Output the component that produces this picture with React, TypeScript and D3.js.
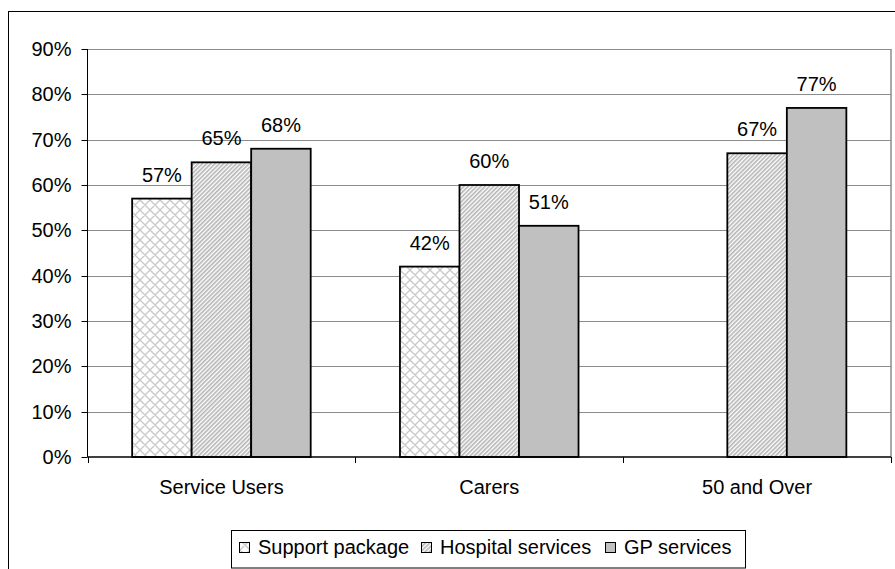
import { useEffect, useRef } from 'react';
import * as d3 from 'd3';

// values (fractions)
const categories = ['Service Users', 'Carers', '50 and Over'];
const seriesNames = ['Support package', 'Hospital services', 'GP services'];
const supportPackage: (number | null)[] = [0.57, 0.42, null];
const hospitalServices: (number | null)[] = [0.65, 0.6, 0.67];
const gpServices: (number | null)[] = [0.68, 0.51, 0.77];
const yTicks = [0, 0.1, 0.2, 0.3, 0.4, 0.5, 0.6, 0.7, 0.8, 0.9];

const W = 895;
const H = 569;
const FONT = '"Liberation Sans", Arial, sans-serif';

export default function App() {
  const svgRef = useRef<SVGSVGElement>(null);

  useEffect(() => {
    if (!svgRef.current) return;
    const svg = d3.select(svgRef.current);
    svg.selectAll('*').remove();

    const plot = { left: 87.5, right: 891, top: 49, bottom: 457 };
    const seriesValues = [supportPackage, hospitalServices, gpServices];
    const fills = ['url(#crossHatch)', 'url(#diagStripe)', '#c0c0c0'];

    // patterns
    const defs = svg.append('defs');
    const cross = defs.append('pattern')
      .attr('id', 'crossHatch')
      .attr('patternUnits', 'userSpaceOnUse')
      .attr('width', 10)
      .attr('height', 10);
    cross.append('rect').attr('width', 10).attr('height', 10).attr('fill', '#ffffff');
    cross.append('path')
      .attr('d', 'M0,0 L10,10 M10,0 L0,10 M-1,9 L1,11 M9,-1 L11,1 M-1,1 L1,-1 M9,11 L11,9')
      .attr('stroke', '#c8c8c8')
      .attr('stroke-width', 1.3);

    const stripe = defs.append('pattern')
      .attr('id', 'diagStripe')
      .attr('patternUnits', 'userSpaceOnUse')
      .attr('width', 3)
      .attr('height', 3)
      .attr('patternTransform', 'rotate(45)');
    stripe.append('rect').attr('width', 3).attr('height', 3).attr('fill', '#ffffff');
    stripe.append('rect').attr('width', 1.6).attr('height', 3).attr('fill', '#b4b4b4');

    // outer frame (runs off the right and bottom edges)
    svg.append('rect')
      .attr('x', 8.5).attr('y', 11.5)
      .attr('width', 1000).attr('height', 1000)
      .attr('fill', 'white')
      .attr('stroke', '#000').attr('stroke-width', 1);

    const x0 = d3.scaleBand<string>()
      .domain(categories)
      .range([plot.left, plot.right])
      .padding(0);

    const x1 = d3.scaleBand<string>()
      .domain(seriesNames)
      .range([0, x0.bandwidth()])
      .paddingInner(0)
      .paddingOuter(0.75);

    const y = d3.scaleLinear()
      .domain([0, 0.9])
      .range([plot.bottom, plot.top]);

    // gridlines
    svg.append('g')
      .selectAll('line')
      .data(yTicks.slice(1))
      .enter()
      .append('line')
      .attr('x1', plot.left)
      .attr('x2', plot.right)
      .attr('y1', d => Math.round(y(d)) + 0.5)
      .attr('y2', d => Math.round(y(d)) + 0.5)
      .attr('stroke', '#8c8c8c')
      .attr('stroke-width', 1);

    // plot-area right border
    svg.append('line')
      .attr('x1', plot.right).attr('x2', plot.right)
      .attr('y1', plot.top).attr('y2', plot.bottom)
      .attr('stroke', '#8c8c8c')
      .attr('stroke-width', 1.5);

    // bars
    seriesValues.forEach((vals, si) => {
      const g = svg.append('g');
      const rows = categories
        .map((c, i) => ({ c, v: vals[i] }))
        .filter(d => d.v !== null) as { c: string; v: number }[];

      g.selectAll('rect')
        .data(rows)
        .enter()
        .append('rect')
        .attr('x', d => (x0(d.c) || 0) + (x1(seriesNames[si]) || 0))
        .attr('y', d => y(d.v))
        .attr('width', x1.bandwidth())
        .attr('height', d => plot.bottom - y(d.v))
        .attr('fill', fills[si])
        .attr('stroke', '#000')
        .attr('stroke-width', 1.8);

      g.selectAll('text')
        .data(rows)
        .enter()
        .append('text')
        .attr('x', d => (x0(d.c) || 0) + (x1(seriesNames[si]) || 0) + x1.bandwidth() / 2)
        .attr('y', d => y(d.v) - 17)
        .attr('text-anchor', 'middle')
        .attr('font-family', FONT)
        .attr('font-size', 20)
        .attr('fill', '#000')
        .text(d => `${Math.round(d.v * 100)}%`);
    });

    // y axis
    const yAxis = svg.append('g').attr('transform', `translate(${plot.left},0)`);
    yAxis.append('line')
      .attr('x1', 0).attr('x2', 0)
      .attr('y1', plot.top).attr('y2', plot.bottom)
      .attr('stroke', '#000');
    yAxis.selectAll('.tick')
      .data(yTicks)
      .enter()
      .append('line')
      .attr('x1', -6).attr('x2', 0)
      .attr('y1', d => Math.round(y(d)) + 0.5)
      .attr('y2', d => Math.round(y(d)) + 0.5)
      .attr('stroke', '#000');
    yAxis.selectAll('text')
      .data(yTicks)
      .enter()
      .append('text')
      .attr('x', -16)
      .attr('y', d => y(d))
      .attr('dy', '0.35em')
      .attr('text-anchor', 'end')
      .attr('font-family', FONT)
      .attr('font-size', 20)
      .attr('fill', '#000')
      .text(d => d3.format('.0%')(d));

    // x axis
    const xAxis = svg.append('g');
    xAxis.append('line')
      .attr('x1', plot.left).attr('x2', plot.right)
      .attr('y1', plot.bottom).attr('y2', plot.bottom)
      .attr('stroke', '#000')
      .attr('stroke-width', 1.5);
    const edges = [...categories.map(c => x0(c) || 0), plot.right];
    xAxis.selectAll('.tick')
      .data(edges)
      .enter()
      .append('line')
      .attr('x1', d => Math.round(d) + 0.5)
      .attr('x2', d => Math.round(d) + 0.5)
      .attr('y1', plot.bottom)
      .attr('y2', plot.bottom + 6)
      .attr('stroke', '#000');
    xAxis.selectAll('text')
      .data(categories)
      .enter()
      .append('text')
      .attr('x', d => (x0(d) || 0) + x0.bandwidth() / 2)
      .attr('y', 493.5)
      .attr('text-anchor', 'middle')
      .attr('font-family', FONT)
      .attr('font-size', 20)
      .attr('fill', '#000')
      .text(d => d);

    // legend
    const legend = svg.append('g');
    legend.append('rect')
      .attr('x', 231.5).attr('y', 530.5)
      .attr('width', 514).attr('height', 37.5)
      .attr('fill', '#fff')
      .attr('stroke', '#000');
    const legendX = [239, 421, 605];
    seriesNames.forEach((name, i) => {
      legend.append('rect')
        .attr('x', legendX[i] + 0.5).attr('y', 542.5)
        .attr('width', 10).attr('height', 10)
        .attr('fill', fills[i])
        .attr('stroke', '#000');
      legend.append('text')
        .attr('x', legendX[i] + 19)
        .attr('y', 554)
        .attr('font-family', FONT)
        .attr('font-size', 20)
        .attr('fill', '#000')
        .text(name);
    });
  }, []);

  return (
    <svg
      ref={svgRef}
      width={W}
      height={H}
      style={{ position: 'absolute', left: 0, top: 0, background: '#fff' }}
    />
  );
}
